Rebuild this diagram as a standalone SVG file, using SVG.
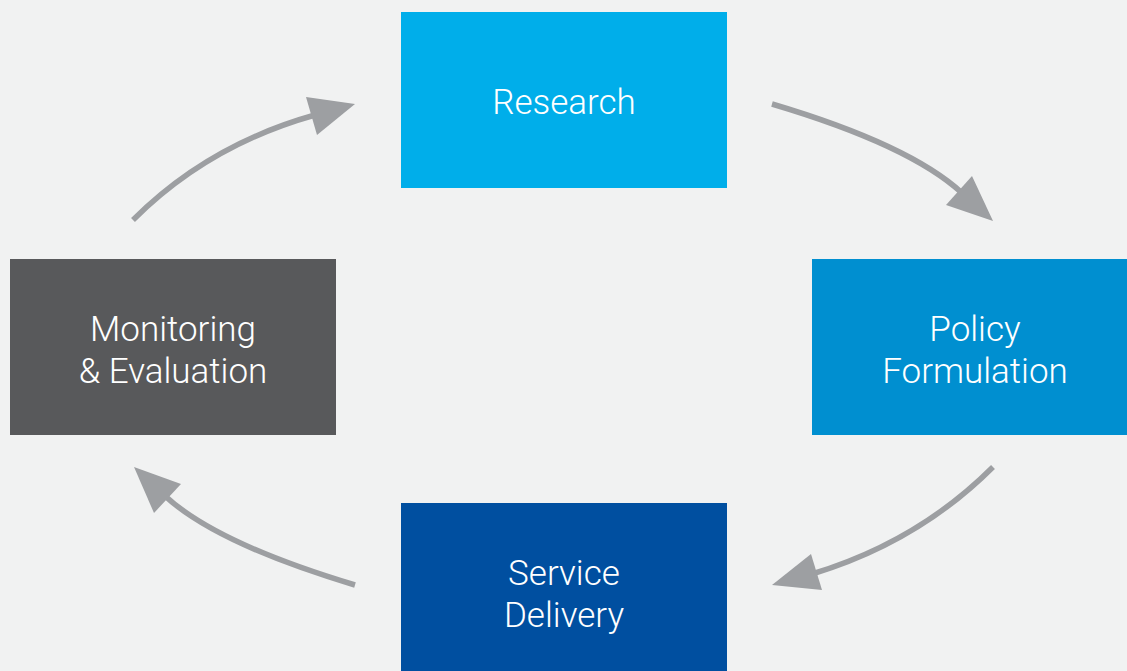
<svg xmlns="http://www.w3.org/2000/svg" width="1127" height="671" viewBox="0 0 1127 671">
<style>
.lbl{font-family:Roboto,"Liberation Sans",sans-serif;font-weight:300;font-size:35px;fill:#ffffff;text-anchor:middle}
.ln{fill:none;stroke:#9d9fa2;stroke-width:5.5}
.hd{fill:#9d9fa2}
</style>
<rect width="1127" height="671" fill="#f1f2f2"/>
<g id="research"><rect x="401" y="12" width="326" height="176" fill="#00aeea"/><text class="lbl" x="564" y="114">Research</text></g>
<g id="policy"><rect x="812" y="259" width="315" height="176" fill="#008fd0"/><text class="lbl" x="975" y="341">Policy</text><text class="lbl" x="975" y="383">Formulation</text></g>
<g id="service"><rect x="401" y="503" width="326" height="168" fill="#004fa0"/><text class="lbl" x="564" y="585">Service</text><text class="lbl" x="564" y="627">Delivery</text></g>
<g id="monitoring"><rect x="10" y="259" width="326" height="176" fill="#58595b"/><text class="lbl" x="173" y="341">Monitoring</text><text class="lbl" x="173" y="383">&amp; Evaluation</text></g>
<g id="connectors">
<path class="ln" d="M133,220 Q208,145 315,115"/>
<polygon class="hd" points="355,104 306,97 317,135"/>
<path class="ln" d="M772,104 Q910,145 962,193"/>
<polygon class="hd" points="993,221 946,205 972,176"/>
<path class="ln" d="M993,467 Q918,542 812,574"/>
<polygon class="hd" points="772,585 811,554 822,590"/>
<path class="ln" d="M355,585 Q215,543 164,495"/>
<polygon class="hd" points="134,467 181,484 154,513"/>
</g>
</svg>
